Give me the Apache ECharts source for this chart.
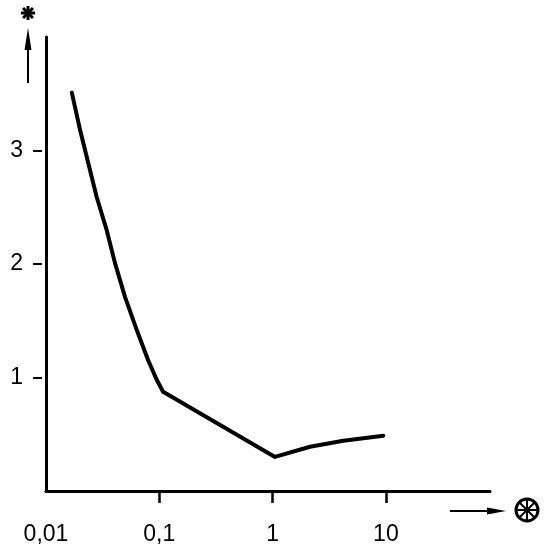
<!DOCTYPE html>
<html>
<head>
<meta charset="utf-8">
<script src="https://cdn.jsdelivr.net/npm/echarts@6/dist/echarts.min.js"></script>
<style>
html,body{margin:0;padding:0;background:#fff;}
#chart{width:550px;height:554px;}
</style>
</head>
<body>
<div id="chart"></div>
<script>
// data
const xValues = [0.0169, 0.0200, 0.0236, 0.0280, 0.0343, 0.0406, 0.0498, 0.0632, 0.0799, 0.0949, 0.108, 1.05, 2.14, 4.21, 9.5];
const yValues = [3.51, 3.18, 2.89, 2.59, 2.30, 2.01, 1.71, 1.42, 1.15, 0.98, 0.875, 0.30, 0.39, 0.443, 0.487];
const xTickValues = [0.1, 1, 10];
const xLabelValues = [0.01, 0.1, 1, 10];
const yTickValues = [1, 2, 3];

const FONT = '"Liberation Sans Narrow", "Liberation Sans", Arial, sans-serif';
const seriesData = xValues.map((x, i) => [x, yValues[i]]);

function asterisk(cx, cy, r, w) {
  const out = [];
  for (let k = 0; k < 4; k++) {
    const a = k * Math.PI / 4;
    out.push({
      type: 'line',
      shape: { x1: cx - r * Math.cos(a), y1: cy - r * Math.sin(a), x2: cx + r * Math.cos(a), y2: cy + r * Math.sin(a) },
      style: { stroke: '#000', lineWidth: w }
    });
  }
  return out;
}

const chart = echarts.init(document.getElementById('chart'), null, { renderer: 'canvas' });
chart.setOption({
  backgroundColor: '#fff',
  animation: false,
  grid: { left: 46, right: 60, top: 37, bottom: 63 },
  xAxis: {
    type: 'log', logBase: 10, min: 0.01, max: 83,
    axisLine: { show: true, lineStyle: { color: '#000', width: 3 } },
    axisTick: { show: true, customValues: xTickValues, length: 12, lineStyle: { color: '#000', width: 2.5 } },
    axisLabel: {
      show: true, customValues: xLabelValues, margin: 32,
      fontFamily: FONT, fontSize: 23, color: '#000',
      formatter: v => String(v).replace('.', ',')
    },
    splitLine: { show: false }, minorTick: { show: false }
  },
  yAxis: [{
    type: 'value', min: 0, max: 4,
    axisLine: { show: true, lineStyle: { color: '#000', width: 3 } },
    axisTick: { show: false }, axisLabel: { show: false }, splitLine: { show: false }
  }, {
    type: 'value', min: 0, max: 4, position: 'left', offset: 4,
    axisLine: { show: false },
    axisTick: { show: true, customValues: yTickValues, length: 9, lineStyle: { color: '#000', width: 2 } },
    axisLabel: { show: true, customValues: yTickValues, margin: 19, fontFamily: FONT, fontSize: 23, color: '#000' },
    splitLine: { show: false }
  }],
  series: [{
    type: 'line', data: seriesData, yAxisIndex: 0, smooth: false,
    showSymbol: false, symbol: 'none',
    lineStyle: { color: '#000', width: 4, join: 'round', cap: 'round' }
  }],
  graphic: [
    // y arrow
    { type: 'line', shape: { x1: 28, y1: 83, x2: 28, y2: 45 }, style: { stroke: '#000', lineWidth: 2 } },
    { type: 'polygon', shape: { points: [[28, 28], [31.5, 50], [24.5, 50]] }, style: { fill: '#000' } },
    ...asterisk(28, 13, 7, 3),
    // x arrow
    { type: 'line', shape: { x1: 450, y1: 511, x2: 492, y2: 511 }, style: { stroke: '#000', lineWidth: 2 } },
    { type: 'polygon', shape: { points: [[506, 511], [487, 507.5], [487, 514.5]] }, style: { fill: '#000' } },
    { type: 'circle', shape: { cx: 527, cy: 510, r: 11 }, style: { fill: 'none', stroke: '#000', lineWidth: 3 } },
    ...asterisk(527, 510, 10, 2)
  ]
});
</script>
</body>
</html>
